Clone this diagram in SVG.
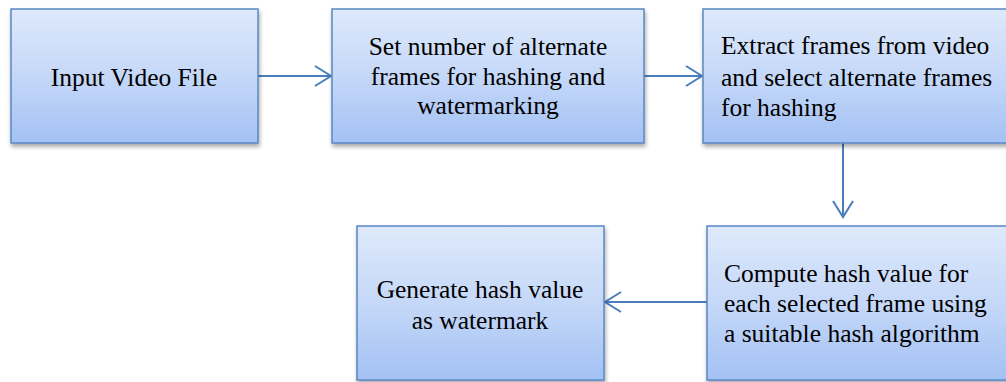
<svg xmlns="http://www.w3.org/2000/svg" width="1006" height="382" viewBox="0 0 1006 382">
<defs>
<linearGradient id="g" x1="0" y1="0" x2="0" y2="1">
<stop offset="0" stop-color="#dee9fb"/>
<stop offset="0.5" stop-color="#c5d8f8"/>
<stop offset="1" stop-color="#a3c1f4"/>
</linearGradient>
<filter id="sh" x="-10%" y="-10%" width="130%" height="130%">
<feGaussianBlur in="SourceAlpha" stdDeviation="2"/>
<feOffset dx="1" dy="3" result="b"/>
<feComponentTransfer><feFuncA type="linear" slope="0.35"/></feComponentTransfer>
<feMerge><feMergeNode/><feMergeNode in="SourceGraphic"/></feMerge>
</filter>
<marker id="ah" markerWidth="20" markerHeight="24" refX="17" refY="11" orient="auto" markerUnits="userSpaceOnUse">
<path d="M1,1 L17,11 L1,21" fill="none" stroke="#4a7ebb" stroke-width="2"/>
</marker>
</defs>
<style>
.box{fill:url(#g);stroke:#5a87c3;stroke-width:1.5;filter:url(#sh)}
.t{font-size:25.5px;fill:#000}
.c{text-anchor:middle}
.conn{stroke:#4a7ebb;stroke-width:2;fill:none;marker-end:url(#ah)}
</style>
<rect width="1006" height="382" fill="#fff"/>
<g id="connectors">
<line class="conn" x1="258" y1="76" x2="331" y2="76"/>
<line class="conn" x1="644" y1="76" x2="702" y2="76"/>
<line class="conn" x1="843" y1="143" x2="843" y2="217"/>
<line class="conn" x1="707" y1="302" x2="605" y2="302"/>
</g>
<g id="nodes" font-family="Liberation Serif, Times New Roman, serif">
<g id="n1">
<rect class="box" x="11" y="9" width="247" height="134"/>
<text class="t c" x="134" y="86">Input Video File</text>
</g>
<g id="n2">
<rect class="box" x="332" y="9" width="312" height="134"/>
<text class="t c" x="488" y="55">Set number of alternate</text>
<text class="t c" x="488" y="85">frames for hashing and</text>
<text class="t c" x="488" y="114">watermarking</text>
</g>
<g id="n3">
<rect class="box" x="703" y="9" width="310" height="134"/>
<text class="t" x="721" y="54">Extract frames from video</text>
<text class="t" x="721" y="86">and select alternate frames</text>
<text class="t" x="721" y="116">for hashing</text>
</g>
<g id="n4">
<rect class="box" x="707" y="226" width="306" height="154"/>
<text class="t" x="724" y="282">Compute hash value for</text>
<text class="t" x="724" y="312">each selected frame using</text>
<text class="t" x="724" y="342">a suitable hash algorithm</text>
</g>
<g id="n5">
<rect class="box" x="357" y="226" width="247" height="154"/>
<text class="t c" x="480" y="298">Generate hash value</text>
<text class="t c" x="480" y="329">as watermark</text>
</g>
</g>
</svg>
